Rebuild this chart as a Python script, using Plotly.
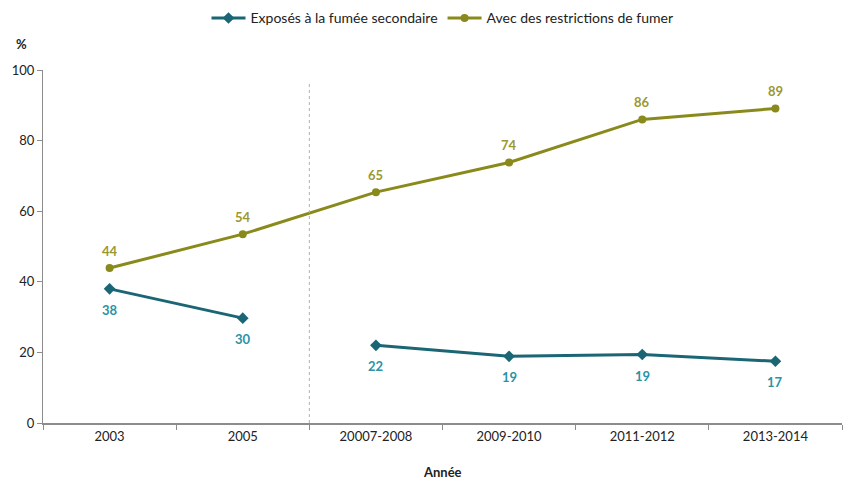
import plotly.graph_objects as go

categories = ["2003", "2005", "20007-2008", "2009-2010", "2011-2012", "2013-2014"]
exposes = [38.0, 29.7, None, None, None, None]
exposes_b = [None, None, 22.0, 18.9, 19.4, 17.5]
exposes_labels = ["38", "30", "22", "19", "19", "17"]
restrictions = [43.9, 53.5, 65.4, 73.8, 86.0, 89.1]
restrictions_labels = ["44", "54", "65", "74", "86", "89"]

TEAL = "#1B6674"
TEAL_LBL = "#2A93A6"
OLIVE = "#8A8A1C"
OLIVE_LBL = "#9A9830"
FONT = "Lato"

fig = go.Figure()
fig.add_trace(go.Scatter(
    x=categories, y=exposes, mode="lines+markers",
    name="Exposés à la fumée secondaire",
    line=dict(color=TEAL, width=3),
    marker=dict(symbol="diamond", size=9, color=TEAL),
    legendgroup="a",
))
fig.add_trace(go.Scatter(
    x=categories, y=exposes_b, mode="lines+markers",
    name="Exposés à la fumée secondaire", showlegend=False,
    line=dict(color=TEAL, width=3),
    marker=dict(symbol="diamond", size=9, color=TEAL),
    legendgroup="a",
))
fig.add_trace(go.Scatter(
    x=categories, y=restrictions, mode="lines+markers",
    name="Avec des restrictions de fumer",
    line=dict(color=OLIVE, width=3),
    marker=dict(symbol="circle", size=8, color=OLIVE),
))

annotations = []
exp_all = [a if a is not None else b for a, b in zip(exposes, exposes_b)]
for i, (v, t) in enumerate(zip(exp_all, exposes_labels)):
    annotations.append(dict(x=i, y=v, xref="x", yref="y", text=t, showarrow=False,
                            yshift=-21, font=dict(color=TEAL_LBL, size=13, family=FONT, weight="bold")))
for i, (v, t) in enumerate(zip(restrictions, restrictions_labels)):
    annotations.append(dict(x=i, y=v, xref="x", yref="y", text=t, showarrow=False,
                            yshift=17, font=dict(color=OLIVE_LBL, size=13, family=FONT, weight="bold")))
annotations.append(dict(text="%", xref="paper", yref="paper", x=-0.027, y=1.045,
                        showarrow=False, font=dict(size=13, family=FONT, weight="bold"),
                        xanchor="center", yanchor="bottom"))
annotations.append(dict(text="<b>Année</b>", xref="paper", yref="paper", x=0.5, y=-0.14,
                        showarrow=False, font=dict(size=13, family=FONT),
                        xanchor="center", yanchor="middle"))

fig.add_shape(type="line", xref="x", yref="y", x0=1.5, x1=1.5, y0=0, y1=96.3,
              line=dict(color="#B0B0B0", width=1, dash="dot"))

fig.update_layout(
    width=850, height=484,
    margin=dict(l=43, r=8, t=70, b=61, autoexpand=False),
    paper_bgcolor="white", plot_bgcolor="white",
    font=dict(family=FONT, size=13, color="#222222"),
    showlegend=True,
    legend=dict(orientation="h", x=0.5, xanchor="center", y=0.995, yref="container",
                yanchor="top", font=dict(size=14, family=FONT), itemwidth=34,
                traceorder="normal"),
    xaxis=dict(
        type="category", range=[-0.5, 5.5], automargin=False,
        showline=True, linecolor="#8C8C8C", linewidth=2,
        ticks="outside", tickson="boundaries", ticklen=5, tickcolor="#8C8C8C",
        showgrid=False, zeroline=False,
        tickfont=dict(size=13, family=FONT),
    ),
    yaxis=dict(
        range=[0, 100], dtick=20, automargin=False,
        showline=True, linecolor="#8C8C8C", linewidth=1,
        ticks="outside", ticklen=5, tickcolor="#8C8C8C",
        showgrid=False, zeroline=False,
        tickfont=dict(size=13, family=FONT),
    ),
    annotations=annotations,
)

fig.write_html("out.html")
